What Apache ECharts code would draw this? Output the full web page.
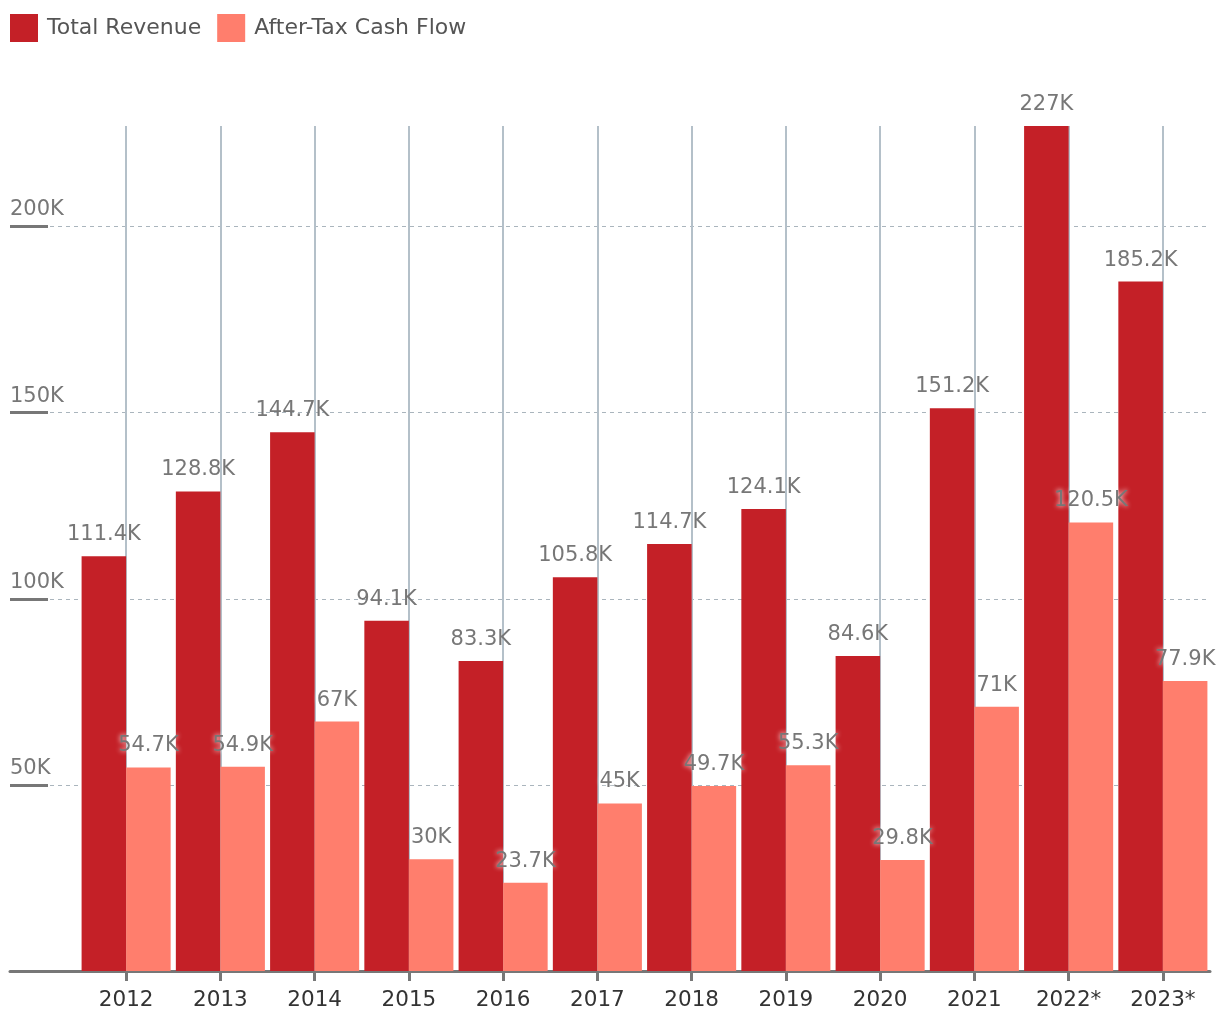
<!DOCTYPE html>
<html>
<head>
<meta charset="utf-8">
<script src="https://cdn.jsdelivr.net/npm/echarts@6/dist/echarts.min.js"></script>
<style>
html,body{margin:0;padding:0;background:#fff;}
#chart{width:1220px;height:1020px;}
</style>
</head>
<body>
<div id="chart"></div>
<script>
const categories = ['2012','2013','2014','2015','2016','2017','2018','2019','2020','2021','2022*','2023*'];
const totalRevenue = [111.4, 128.8, 144.7, 94.1, 83.3, 105.8, 114.7, 124.1, 84.6, 151.2, 227, 185.2];
const afterTaxCashFlow = [54.7, 54.9, 67, 30, 23.7, 45, 49.7, 55.3, 29.8, 71, 120.5, 77.9];
const yTicks = [0, 50, 100, 150, 200];

const FONT = 'DejaVu Sans';
const FS = 21;
const plotTop = 126, plotBottom = 49, H = 1020;
const yMax = Math.max(...totalRevenue);
const tickMax = yTicks[yTicks.length - 1];
const plotH = H - plotTop - plotBottom;
const grid0Top = H - plotBottom - plotH * tickMax / yMax;

const chart = echarts.init(document.getElementById('chart'), null, {renderer: 'canvas'});
const kfmt = v => (v === 0 ? '' : (Math.round(v * 10) / 10) + 'K');

chart.setOption({
  animation: false,
  textStyle: {fontFamily: FONT},
  legend: {
    left: 5, top: 9,
    icon: 'rect', itemWidth: 28, itemHeight: 28, itemGap: 16,
    textStyle: {fontFamily: FONT, fontSize: 22, color: '#555', padding: [6, 0, 0, 4]},
    data: ['Total Revenue', 'After-Tax Cash Flow']
  },
  grid: [
    {left: 10, right: 10, top: grid0Top, bottom: plotBottom},
    {left: 79, right: 10, top: plotTop, bottom: plotBottom}
  ],
  xAxis: [
    {gridIndex: 0, type: 'value', min: 0, max: 1,
     axisLine: {show: true, lineStyle: {color: '#777', width: 3}},
     axisTick: {show: false}, axisLabel: {show: false}, splitLine: {show: false}},
    {gridIndex: 1, type: 'category', data: categories,
     axisLine: {show: false},
     axisTick: {show: true, alignWithLabel: true, length: 10, lineStyle: {color: '#777', width: 3}},
     axisLabel: {color: '#333', fontSize: 21.5, margin: 18, fontFamily: FONT},
     splitLine: {show: false}}
  ],
  yAxis: [
    {gridIndex: 0, type: 'value', min: 0, max: tickMax, interval: 50,
     axisLine: {show: false},
     axisTick: {show: true, inside: true, length: 38, lineStyle: {color: '#777', width: 3}},
     axisLabel: {inside: true, margin: 0, align: 'left', verticalAlign: 'bottom',
                 padding: [0, 0, 6, 0], color: '#777', fontSize: FS, fontFamily: FONT, formatter: kfmt},
     splitLine: {show: true, lineStyle: {color: '#aab5bd', width: 1, type: [4, 4]}}},
    {gridIndex: 1, type: 'value', min: 0, max: yMax, show: false}
  ],
  series: [
    {name: 'Total Revenue', type: 'bar', xAxisIndex: 1, yAxisIndex: 1, z: 10,
     data: totalRevenue, itemStyle: {color: '#C42027'},
     barGap: '0%', barCategoryGap: '5.5%',
     label: {show: true, position: 'top', distance: 11, color: '#777', fontSize: FS, fontFamily: FONT,
             formatter: p => kfmt(p.value)}},
    {name: 'After-Tax Cash Flow', type: 'bar', xAxisIndex: 1, yAxisIndex: 1, z: 10,
     data: afterTaxCashFlow, itemStyle: {color: '#FF7E6D'},
     barGap: '0%', barCategoryGap: '5.5%',
     label: {show: true, position: 'top', distance: 11, color: '#777', fontSize: FS, fontFamily: FONT,
             textShadowColor: '#fff', textShadowBlur: 5,
             formatter: p => kfmt(p.value)}},
    {name: 'gridlines', type: 'line', xAxisIndex: 1, yAxisIndex: 1, data: [], silent: true,
     markLine: {silent: true, symbol: ['none', 'none'], label: {show: false}, animation: false,
                lineStyle: {color: '#b4c0c9', width: 2, type: 'solid'},
                data: categories.map(c => ({xAxis: c}))}}
  ]
});
</script>
</body>
</html>
